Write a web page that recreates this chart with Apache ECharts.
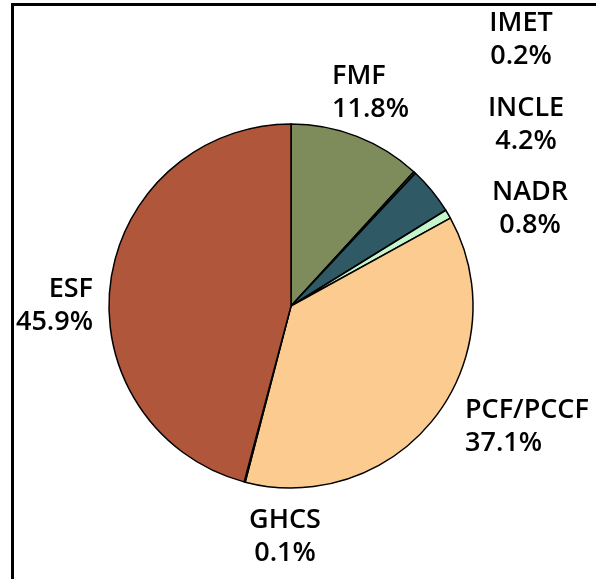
<!DOCTYPE html>
<html>
<head>
<meta charset="utf-8">
<script src="https://cdn.jsdelivr.net/npm/echarts@6/dist/echarts.min.js"></script>
<style>
  html, body { margin: 0; padding: 0; background: #fff; }
  #main { width: 596px; height: 579px; position: relative; }
  .frame { position: absolute; left: 11px; top: 3px; right: 0; bottom: 0; border-top: 3px solid #000; border-left: 3px solid #000; pointer-events: none; }
</style>
</head>
<body>
<div id="main"></div>
<div class="frame"></div>
<script>
// funding shares, clockwise from 12 o'clock
const names = ["FMF", "IMET", "INCLE", "NADR", "PCF/PCCF", "GHCS", "ESF"];
const shares = [11.8, 0.2, 4.2, 0.8, 37.1, 0.1, 45.9];
const colors = ["#7e8b5a", "#3a3a3a", "#2f5964", "#c6f5cc", "#fbcb90", "#333333", "#b0563a"];

// where each label sits (x, y, align)
const labelPos = [
  [332, 93, "left"],
  [521, 40, "center"],
  [526, 125, "center"],
  [530, 209, "center"],
  [465, 427, "left"],
  [285, 537, "center"],
  [93, 306, "right"]
];

var myChart = echarts.init(document.getElementById("main"));
let option = {
  animation: false,
  series: [
    {
      type: "pie",
      center: [291, 306],
      radius: 182,
      startAngle: 90,
      clockwise: true,
      avoidLabelOverlap: false,
      itemStyle: {
        borderColor: "#000",
        borderWidth: 1.5
      },
      label: {
        show: true,
        position: "outside",
        formatter: "{b}\n{c}%",
        fontFamily: "Open Sans",
        fontWeight: 600,
        fontSize: 27,
        lineHeight: 33,
        color: "#000"
      },
      labelLine: { show: false },
      labelLayout: function (params) {
        const p = labelPos[params.dataIndex];
        return { x: p[0], y: p[1], align: p[2], verticalAlign: "middle" };
      },
      data: names.map((n, i) => ({
        name: n,
        value: shares[i],
        itemStyle: { color: colors[i] }
      }))
    }
  ]
};
myChart.setOption(option);
</script>
</body>
</html>
